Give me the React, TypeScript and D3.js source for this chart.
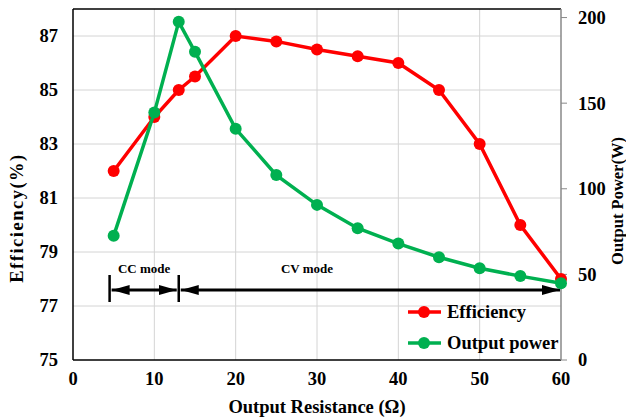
import React from "react";
import * as d3 from "d3";

const resistance = [5, 10, 13, 15, 20, 25, 30, 35, 40, 45, 50, 55, 60];
const efficiency = [82, 84, 85, 85.5, 87, 86.8, 86.5, 86.25, 86, 85, 83, 80, 78];
const outputPower = [72.5, 144.5, 197.5, 180, 135, 108, 90.6, 77, 68, 60, 53.6, 49, 44.8];

const xTicks = [0, 10, 20, 30, 40, 50, 60];
const effTicks = [75, 77, 79, 81, 83, 85, 87];
const powerTicks = [0, 50, 100, 150, 200];

// mode ranges in ohm
const ccRange = [4.5, 13];
const cvRange = [13, 60];

const W = 626;
const H = 418;
const m = { left: 73, right: 561, top: 9, bottom: 360 };

const RED = "#ff0000";
const GREEN = "#00b050";
const font = "'Times New Roman', 'Liberation Serif', serif";

const App: React.FC = () => {
  const x = d3.scaleLinear().domain([0, 60]).range([m.left, m.right]);
  const yL = d3.scaleLinear().domain([75, 88]).range([m.bottom, m.top]);
  const yR = d3.scaleLinear().domain([0, 205]).range([m.bottom, m.top]);

  const effLine = d3
    .line<number>()
    .x((_, i) => x(resistance[i]))
    .y((d) => yL(d));
  const powLine = d3
    .line<number>()
    .x((_, i) => x(resistance[i]))
    .y((d) => yR(d));

  const arrowY = 290;

  return (
    <svg
      width={W}
      height={H}
      style={{ position: "absolute", left: 0, top: 0, background: "#fff", fontFamily: font, fontWeight: "bold" }}
    >
      <defs>
        <marker id="ah" viewBox="0 0 18 10" refX="18" refY="5" markerWidth="18" markerHeight="10" markerUnits="userSpaceOnUse" orient="auto-start-reverse">
          <path d="M0,0L18,5L0,10z" fill="#000" />
        </marker>
      </defs>
      {/* grid */}
      <g stroke="#d4d4d4" strokeWidth={1}>
        {xTicks.slice(1, -1).map((t) => (
          <line key={"gx" + t} x1={x(t)} x2={x(t)} y1={m.top} y2={m.bottom} />
        ))}
        {effTicks.slice(1).map((t) => (
          <line key={"gy" + t} x1={m.left} x2={m.right} y1={yL(t)} y2={yL(t)} />
        ))}
      </g>

      {/* frame */}
      <line x1={m.left} x2={m.right} y1={m.top} y2={m.top} stroke="#000" strokeWidth={1.5} />
      <line x1={m.left} x2={m.left} y1={m.top} y2={m.bottom} stroke="#000" strokeWidth={1.5} />
      <line x1={m.left} x2={m.right} y1={m.bottom} y2={m.bottom} stroke="#000" strokeWidth={1.5} />
      <line x1={m.right} x2={m.right} y1={m.top} y2={m.bottom} stroke="#888" strokeWidth={1.5} />
      {powerTicks.map((t) => (
        <line key={"rt" + t} x1={m.right} x2={m.right + 6} y1={yR(t)} y2={yR(t)} stroke="#888" strokeWidth={1} />
      ))}

      {/* tick labels */}
      <g fontSize={18.5}>
        {effTicks.map((t) => (
          <text key={"l" + t} x={m.left - 15} y={yL(t)} dy="0.35em" textAnchor="end">
            {t}
          </text>
        ))}
        {powerTicks.map((t) => (
          <text key={"r" + t} x={m.right + 17} y={yR(t)} dy="0.35em" textAnchor="start">
            {t}
          </text>
        ))}
        {xTicks.map((t) => (
          <text key={"x" + t} x={x(t)} y={m.bottom + 25} textAnchor="middle">
            {t}
          </text>
        ))}
      </g>

      {/* axis titles */}
      <text x={W / 2 + 4} y={413} fontSize={18.5} textAnchor="middle">
        Output Resistance (Ω)
      </text>
      <text transform="translate(23,218) rotate(-90)" fontSize={18.5} letterSpacing={1.5} textAnchor="middle">
        Efficiency(%)
      </text>
      <text transform="translate(623,201) rotate(-90)" fontSize={16.5} textAnchor="middle">
        Output Power(W)
      </text>

      {/* mode annotations */}
      <g stroke="#000">
        <line x1={x(ccRange[0])} x2={x(ccRange[0])} y1={arrowY - 15} y2={arrowY + 12} strokeWidth={2.5} />
        <line x1={x(ccRange[1])} x2={x(ccRange[1])} y1={arrowY - 15} y2={arrowY + 12} strokeWidth={2.5} />
        <line x1={x(ccRange[0]) + 2} x2={x(ccRange[1]) - 2} y1={arrowY} y2={arrowY} strokeWidth={3} markerStart="url(#ah)" markerEnd="url(#ah)" />
        <line x1={x(cvRange[0]) + 2} x2={x(cvRange[1]) - 1} y1={arrowY} y2={arrowY} strokeWidth={3} markerStart="url(#ah)" markerEnd="url(#ah)" />
      </g>
      <text x={(x(ccRange[0]) + x(ccRange[1])) / 2} y={arrowY - 17} fontSize={13} textAnchor="middle">
        CC mode
      </text>
      <text x={307} y={arrowY - 17} fontSize={13} textAnchor="middle">
        CV mode
      </text>

      {/* series */}
      <path d={effLine(efficiency) ?? ""} fill="none" stroke={RED} strokeWidth={3.5} />
      {efficiency.map((d, i) => (
        <circle key={"e" + i} cx={x(resistance[i])} cy={yL(d)} r={6} fill={RED} />
      ))}
      <path d={powLine(outputPower) ?? ""} fill="none" stroke={GREEN} strokeWidth={3.5} />
      {outputPower.map((d, i) => (
        <circle key={"p" + i} cx={x(resistance[i])} cy={yR(d)} r={6} fill={GREEN} />
      ))}

      {/* legend */}
      {[
        { label: "Efficiency", color: RED, y: 312 },
        { label: "Output power", color: GREEN, y: 343 },
      ].map((l) => (
        <g key={l.label}>
          <line x1={408} x2={441} y1={l.y} y2={l.y} stroke={l.color} strokeWidth={3.5} />
          <circle cx={424} cy={l.y} r={6} fill={l.color} />
          <text x={447} y={l.y} dy="0.35em" fontSize={18.5}>
            {l.label}
          </text>
        </g>
      ))}
    </svg>
  );
};

export default App;
